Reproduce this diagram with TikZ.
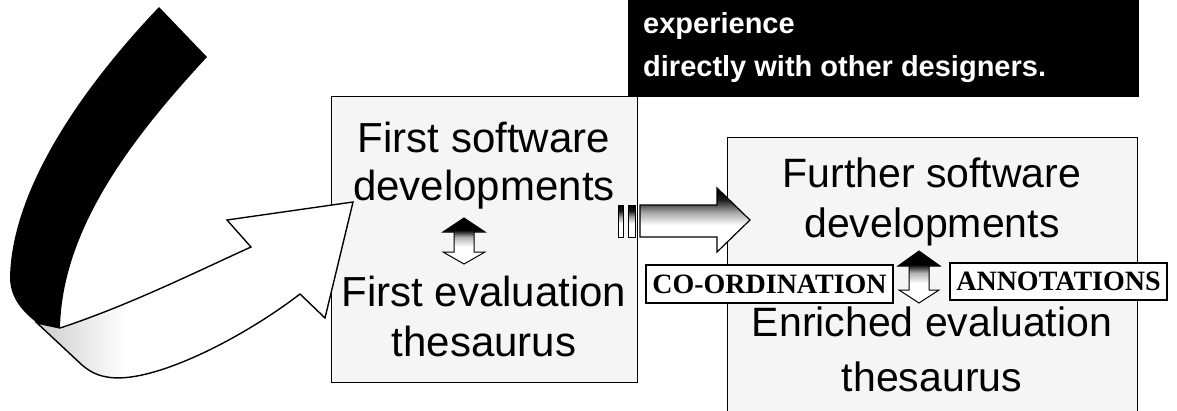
\documentclass[tikz,border=0pt]{standalone}
\usepackage{fontspec}
\setmainfont{Liberation Sans}
\newfontfamily\labelfont{Liberation Serif}
\pgfdeclareverticalshading{smallarr}{100bp}{color(0bp)=(white); color(25bp)=(white); color(44bp)=(white); color(54bp)=(gray!60); color(62bp)=(black); color(75bp)=(black); color(100bp)=(black)}
\pgfdeclareverticalshading{bigarr}{100bp}{color(0bp)=(white); color(25bp)=(white); color(46bp)=(white); color(56bp)=(gray!70); color(66bp)=(black!90); color(75bp)=(black); color(100bp)=(black)}
\tikzset{
  panel/.style={draw=black, line width=1.4pt, fill=black!4, inner sep=0pt, anchor=north west},
  bigtext/.style={font=\fontsize{42}{48}\selectfont, anchor=base, inner sep=0pt},
  righttext/.style={font=\fontsize{41}{48}\selectfont, anchor=base, inner sep=0pt},
  notetext/.style={font=\bfseries\fontsize{29}{42}\selectfont, text=white, anchor=base west, inner sep=0pt},
  tag/.style={draw=black, line width=1.2pt, fill=white, inner sep=0pt, font=\labelfont\bfseries\fontsize{28}{30}\selectfont},
  outl/.style={draw=black, line width=1.4pt},
}
\begin{document}
\begin{tikzpicture}[x=1pt,y=-1pt]
\useasboundingbox (0,0) rectangle (1177,410);
\clip (0,0) rectangle (1177,410);
% black note box
\node[fill=black, draw=black, inner sep=0pt, minimum width=510pt, minimum height=120pt, anchor=south west] (note) at (628,96) {};
\node[notetext] (n1) at (643,33) {experience};
\node[notetext] (n2) at (643,76) {directly with other designers.};
% panels
\node[panel, minimum width=306pt, minimum height=286pt] (lbox) at (331,96) {};
\node[panel, minimum width=410pt, minimum height=320pt] (rbox) at (727,137) {};
% curved ribbon arrow
\def\ribbon{(37,323) -- (60,328) .. controls (130,305) and (200,270) .. (251,247) -- (227,220) -- (353,202) -- (325,318) -- (300,294) .. controls (240,340) and (150,385) .. (107,377) .. controls (95,375) and (88,370) .. (82,365) -- cycle}
\fill[white] \ribbon;
\begin{scope}
\clip \ribbon;
\shade[left color=gray!40, right color=white] (37,300) rectangle (125,390);
\end{scope}
\draw[outl, line join=miter] \ribbon;
\fill[black] (159,7) .. controls (80,90) and (12,190) .. (10,277) .. controls (10,300) and (25,313) .. (37,323) -- (60,328) .. controls (62,230) and (130,140) .. (207,57) -- cycle;
% left panel texts
\node[bigtext] (l1) at (484,152) {First software};
\node[bigtext] (l2) at (484,200) {developments};
\node[bigtext] (l3) at (484,306) {First evaluation};
\node[bigtext] (l4) at (484,356) {thesaurus};
% left up-down arrow
\shadedraw[shading=smallarr, line width=1pt] (464,218) -- (485,232) -- (474,232) -- (474,252) -- (485,252) -- (464,264) -- (443,252) -- (454,252) -- (454,232) -- (443,232) -- cycle;
% big horizontal arrow with stripes
\shadedraw[shading=bigarr, line width=1pt] (618,205) rectangle (623,237);
\shadedraw[shading=bigarr, line width=1pt] (628,205) rectangle (635,237);
\shadedraw[shading=bigarr, line width=1.2pt] (640,205) -- (717,205) -- (717,188) -- (750,220) -- (717,252) -- (717,237) -- (640,237) -- cycle;
% right panel texts
\node[righttext] (r1) at (932,187) {Further software};
\node[righttext] (r2) at (932,237) {developments};
\node[righttext] (r3) at (932,336) {Enriched evaluation};
\node[righttext] (r4) at (932,391) {thesaurus};
% tags
\node[tag, minimum width=247pt, minimum height=38pt] (coord) at (769.5,284) {CO-ORDINATION};
\node[tag, minimum width=217pt, minimum height=37pt] (annot) at (1058.5,281.5) {ANNOTATIONS};
% right up-down arrow
\shadedraw[shading=smallarr, line width=1pt] (919,251) -- (940,266) -- (929,266) -- (929,290) -- (939,290) -- (919,303) -- (899,290) -- (909,290) -- (909,266) -- (898,266) -- cycle;
\end{tikzpicture}
\end{document}
